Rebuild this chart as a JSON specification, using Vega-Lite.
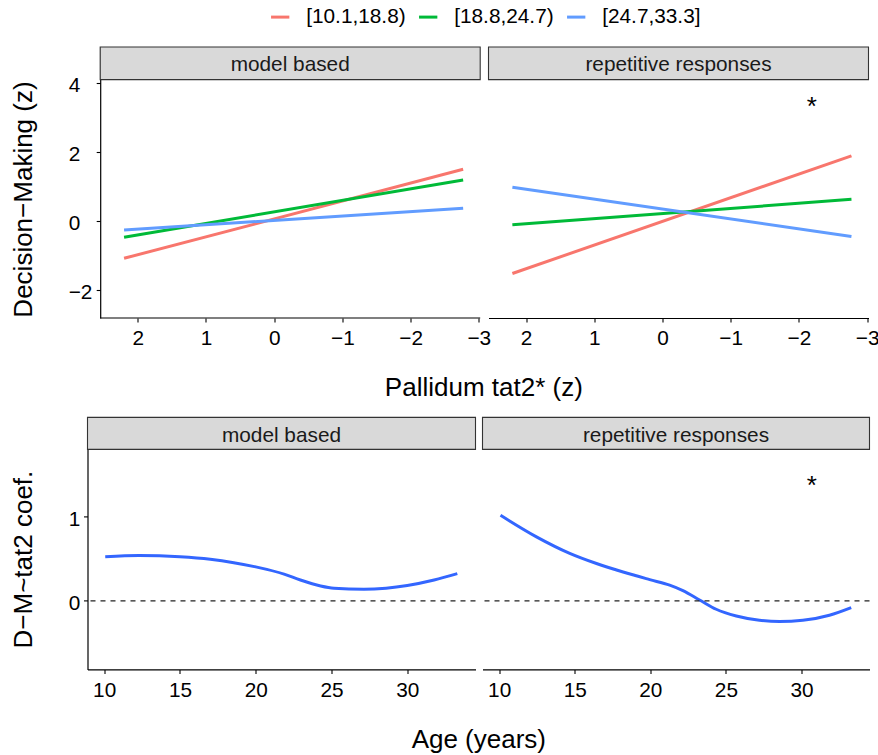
{
  "$schema": "https://vega.github.io/schema/vega-lite/v6.json",
  "padding": {"left": 10.5, "top": 6, "right": 0, "bottom": 0},
  "background": "white",
  "datasets": {
    "lines": [
      {"panel": "model based", "group": "[10.1,18.8)", "x": 2.2, "y": -1.09},
      {"panel": "model based", "group": "[10.1,18.8)", "x": -2.77, "y": 1.49},
      {"panel": "model based", "group": "[18.8,24.7)", "x": 2.2, "y": -0.48},
      {"panel": "model based", "group": "[18.8,24.7)", "x": -2.77, "y": 1.18},
      {"panel": "model based", "group": "[24.7,33.3]", "x": 2.2, "y": -0.27},
      {"panel": "model based", "group": "[24.7,33.3]", "x": -2.77, "y": 0.36},
      {"panel": "repetitive responses", "group": "[10.1,18.8)", "x": 2.2, "y": -1.53},
      {"panel": "repetitive responses", "group": "[10.1,18.8)", "x": -2.77, "y": 1.88},
      {"panel": "repetitive responses", "group": "[18.8,24.7)", "x": 2.2, "y": -0.12},
      {"panel": "repetitive responses", "group": "[18.8,24.7)", "x": -2.77, "y": 0.62},
      {"panel": "repetitive responses", "group": "[24.7,33.3]", "x": 2.2, "y": 0.97},
      {"panel": "repetitive responses", "group": "[24.7,33.3]", "x": -2.77, "y": -0.46}
    ],
    "curves": [
      {"panel": "model based", "age": 10.07, "coef": 0.52},
      {"panel": "model based", "age": 12.3, "coef": 0.535},
      {"panel": "model based", "age": 15.0, "coef": 0.52},
      {"panel": "model based", "age": 17.0, "coef": 0.49},
      {"panel": "model based", "age": 18.55, "coef": 0.45},
      {"panel": "model based", "age": 20.0, "coef": 0.40},
      {"panel": "model based", "age": 21.87, "coef": 0.315},
      {"panel": "model based", "age": 22.95, "coef": 0.245},
      {"panel": "model based", "age": 24.28, "coef": 0.175},
      {"panel": "model based", "age": 25.16, "coef": 0.148},
      {"panel": "model based", "age": 27.14, "coef": 0.135},
      {"panel": "model based", "age": 28.6, "coef": 0.148},
      {"panel": "model based", "age": 30.0, "coef": 0.18},
      {"panel": "model based", "age": 31.77, "coef": 0.245},
      {"panel": "model based", "age": 33.3, "coef": 0.32},
      {"panel": "repetitive responses", "age": 10.09, "coef": 1.01},
      {"panel": "repetitive responses", "age": 12.47, "coef": 0.755},
      {"panel": "repetitive responses", "age": 14.67, "coef": 0.56},
      {"panel": "repetitive responses", "age": 16.44, "coef": 0.44},
      {"panel": "repetitive responses", "age": 18.2, "coef": 0.34},
      {"panel": "repetitive responses", "age": 19.96, "coef": 0.25},
      {"panel": "repetitive responses", "age": 21.28, "coef": 0.185},
      {"panel": "repetitive responses", "age": 22.16, "coef": 0.12},
      {"panel": "repetitive responses", "age": 23.26, "coef": 0.01},
      {"panel": "repetitive responses", "age": 24.36, "coef": -0.10},
      {"panel": "repetitive responses", "age": 25.69, "coef": -0.18},
      {"panel": "repetitive responses", "age": 27.22, "coef": -0.23},
      {"panel": "repetitive responses", "age": 28.55, "coef": -0.245},
      {"panel": "repetitive responses", "age": 30.09, "coef": -0.23},
      {"panel": "repetitive responses", "age": 31.85, "coef": -0.17},
      {"panel": "repetitive responses", "age": 33.29, "coef": -0.08}
    ],
    "stars": [
      {"row": "top", "panel": "repetitive responses", "x": -2.19, "y": 3.07, "label": "*"},
      {"row": "bottom", "panel": "repetitive responses", "x": 30.69, "y": 1.265, "label": "*"}
    ],
    "strips": [
      {"panel": "model based"},
      {"panel": "repetitive responses"}
    ]
  },
  "spacing": 14.4,
  "vconcat": [
    {
      "columns": 2,
      "align": "none",
      "spacing": -4,
      "title": {"text": "Pallidum tat2* (z)", "orient": "bottom", "anchor": "middle", "frame": "bounds", "fontSize": 26, "font": "Liberation Sans", "fontWeight": "normal", "color": "black", "offset": 27, "dx": 39},
      "concat": [
        {
          "width": 392.7, "height": 271,
          "layer": [
            {
              "data": {"name": "lines"},
              "transform": [{"filter": "datum.panel === 'model based'"}],
              "mark": {"type": "line", "strokeWidth": 3},
              "encoding": {
                "x": {"field": "x", "type": "quantitative", "scale": {"domain": [-3.02, 2.736], "reverse": true, "nice": false, "zero": false}, "axis": {"values": [2, 1, 0, -1, -2, -3], "format": "d", "title": null, "labelPadding": 6.5, "domain": false}},
                "y": {"field": "y", "type": "quantitative", "scale": {"domain": [-2.82, 5.035], "nice": false, "zero": false}, "axis": {"values": [-2, 0, 2, 4], "format": "d", "title": "Decision−Making (z)", "labelAlign": "left", "labelPadding": 28, "labelOffset": 3, "titlePadding": 31.5, "titleY": 152, "offset": -12.7}},
                "color": {"field": "group", "type": "nominal", "scale": {"domain": ["[10.1,18.8)", "[18.8,24.7)", "[24.7,33.3]"], "range": ["#F8766D", "#00BA38", "#619CFF"]}, "legend": {"orient": "none", "direction": "horizontal", "legendX": 181.7, "legendY": -41, "title": null}}
              }
            },
            {
              "data": {"name": "strips"},
              "transform": [{"filter": "datum.panel === 'model based'"}],
              "mark": {"type": "rule", "strokeWidth": 1.2, "color": "black"},
              "encoding": {
                "x": {"datum": 2.55, "type": "quantitative"},
                "x2": {"datum": -3.02},
                "y": {"datum": -2.82, "type": "quantitative"}
              }
            },
            {
              "data": {"name": "strips"},
              "transform": [{"filter": "datum.panel === 'model based'"}],
              "mark": {"type": "rect", "fill": "#d9d9d9", "stroke": "#333333", "strokeWidth": 1.1},
              "encoding": {
                "x": {"datum": 2.55, "type": "quantitative"},
                "x2": {"datum": -3.02},
                "y": {"datum": 4.09, "type": "quantitative"},
                "y2": {"datum": 5.035}
              }
            },
            {
              "data": {"name": "strips"},
              "transform": [{"filter": "datum.panel === 'model based'"}],
              "mark": {"type": "text", "fontSize": 20.8, "color": "#1a1a1a", "baseline": "alphabetic", "align": "center"},
              "encoding": {
                "x": {"datum": -0.235, "type": "quantitative"},
                "y": {"datum": 4.328, "type": "quantitative"},
                "text": {"field": "panel"}
              }
            }
          ]
        },
        {
          "width": 380, "height": 271,
          "layer": [
            {
              "data": {"name": "lines"},
              "transform": [{"filter": "datum.panel === 'repetitive responses'"}],
              "mark": {"type": "line", "strokeWidth": 3},
              "encoding": {
                "x": {"field": "x", "type": "quantitative", "scale": {"domain": [-3.02, 2.55], "reverse": true, "nice": false, "zero": false}, "axis": {"values": [2, 1, 0, -1, -2, -3], "format": "d", "title": null, "labelPadding": 6.5}},
                "y": {"field": "y", "type": "quantitative", "scale": {"domain": [-2.82, 5.035], "nice": false, "zero": false}, "axis": null},
                "color": {"field": "group", "type": "nominal", "scale": {"domain": ["[10.1,18.8)", "[18.8,24.7)", "[24.7,33.3]"], "range": ["#F8766D", "#00BA38", "#619CFF"]}, "legend": {"orient": "none", "direction": "horizontal", "legendX": 181.7, "legendY": -41, "title": null}}
              }
            },
            {
              "data": {"name": "stars"},
              "transform": [{"filter": "datum.row === 'top'"}],
              "mark": {"type": "text", "fontSize": 26, "color": "black", "baseline": "alphabetic", "align": "center"},
              "encoding": {
                "x": {"field": "x", "type": "quantitative"},
                "y": {"field": "y", "type": "quantitative"},
                "text": {"field": "label"}
              }
            },
            {
              "data": {"name": "strips"},
              "transform": [{"filter": "datum.panel === 'repetitive responses'"}],
              "mark": {"type": "rect", "fill": "#d9d9d9", "stroke": "#333333", "strokeWidth": 1.1},
              "encoding": {
                "y": {"datum": 4.09, "type": "quantitative"},
                "y2": {"datum": 5.035}
              }
            },
            {
              "data": {"name": "strips"},
              "transform": [{"filter": "datum.panel === 'repetitive responses'"}],
              "mark": {"type": "text", "fontSize": 20.8, "color": "#1a1a1a", "baseline": "alphabetic", "align": "center"},
              "encoding": {
                "y": {"datum": 4.328, "type": "quantitative"},
                "text": {"field": "panel"}
              }
            }
          ]
        }
      ]
    },
    {
      "spacing": 5,
      "title": {"text": "Age (years)", "orient": "bottom", "anchor": "middle", "frame": "bounds", "fontSize": 26, "font": "Liberation Sans", "fontWeight": "normal", "color": "black", "offset": 26.7, "dx": 38.4},
      "hconcat": [
        {
          "width": 388, "height": 252,
          "layer": [
            {
              "data": {"name": "curves"},
              "transform": [{"filter": "datum.panel === 'model based'"}],
              "mark": {"type": "line", "strokeWidth": 3, "color": "#3366FF", "interpolate": "monotone"},
              "encoding": {
                "x": {"field": "age", "type": "quantitative", "scale": {"domain": [8.9, 34.5], "nice": false, "zero": false}, "axis": {"values": [10, 15, 20, 25, 30], "title": null, "labelPadding": 7}},
                "y": {"field": "coef", "type": "quantitative", "scale": {"domain": [-0.81, 2.165], "nice": false, "zero": false}, "axis": {"values": [0, 1], "format": "d", "title": "D−M~tat2 coef.", "labelAlign": "left", "labelPadding": 15.3, "labelOffset": 3, "titlePadding": 31.5, "titleY": 141.7}}
              }
            },
            {
              "data": {"name": "strips"},
              "transform": [{"filter": "datum.panel === 'model based'"}],
              "mark": {"type": "rule", "strokeDash": [5, 5], "strokeWidth": 1.3, "color": "#222222"},
              "encoding": {"y": {"datum": 0, "type": "quantitative"}}
            },
            {
              "data": {"name": "strips"},
              "transform": [{"filter": "datum.panel === 'model based'"}],
              "mark": {"type": "rect", "fill": "#d9d9d9", "stroke": "#333333", "strokeWidth": 1.1},
              "encoding": {
                "y": {"datum": 1.787, "type": "quantitative"},
                "y2": {"datum": 2.165}
              }
            },
            {
              "data": {"name": "strips"},
              "transform": [{"filter": "datum.panel === 'model based'"}],
              "mark": {"type": "text", "fontSize": 20.8, "color": "#1a1a1a", "baseline": "alphabetic", "align": "center"},
              "encoding": {
                "y": {"datum": 1.877, "type": "quantitative"},
                "text": {"field": "panel"}
              }
            }
          ]
        },
        {
          "width": 387, "height": 252,
          "layer": [
            {
              "data": {"name": "curves"},
              "transform": [{"filter": "datum.panel === 'repetitive responses'"}],
              "mark": {"type": "line", "strokeWidth": 3, "color": "#3366FF", "interpolate": "monotone"},
              "encoding": {
                "x": {"field": "age", "type": "quantitative", "scale": {"domain": [8.9, 34.5], "nice": false, "zero": false}, "axis": {"values": [10, 15, 20, 25, 30], "title": null, "labelPadding": 7}},
                "y": {"field": "coef", "type": "quantitative", "scale": {"domain": [-0.81, 2.165], "nice": false, "zero": false}, "axis": null}
              }
            },
            {
              "data": {"name": "strips"},
              "transform": [{"filter": "datum.panel === 'repetitive responses'"}],
              "mark": {"type": "rule", "strokeDash": [5, 5], "strokeWidth": 1.3, "color": "#222222"},
              "encoding": {"y": {"datum": 0, "type": "quantitative"}}
            },
            {
              "data": {"name": "stars"},
              "transform": [{"filter": "datum.row === 'bottom'"}],
              "mark": {"type": "text", "fontSize": 26, "color": "black", "baseline": "alphabetic", "align": "center"},
              "encoding": {
                "x": {"field": "x", "type": "quantitative"},
                "y": {"field": "y", "type": "quantitative"},
                "text": {"field": "label"}
              }
            },
            {
              "data": {"name": "strips"},
              "transform": [{"filter": "datum.panel === 'repetitive responses'"}],
              "mark": {"type": "rect", "fill": "#d9d9d9", "stroke": "#333333", "strokeWidth": 1.1},
              "encoding": {
                "y": {"datum": 1.787, "type": "quantitative"},
                "y2": {"datum": 2.165}
              }
            },
            {
              "data": {"name": "strips"},
              "transform": [{"filter": "datum.panel === 'repetitive responses'"}],
              "mark": {"type": "text", "fontSize": 20.8, "color": "#1a1a1a", "baseline": "alphabetic", "align": "center"},
              "encoding": {
                "y": {"datum": 1.877, "type": "quantitative"},
                "text": {"field": "panel"}
              }
            }
          ]
        }
      ]
    }
  ],
  "config": {
    "font": "Liberation Sans",
    "view": {"stroke": null},
    "axis": {
      "grid": false,
      "domainColor": "black",
      "domainWidth": 1.2,
      "tickColor": "black",
      "tickWidth": 1.1,
      "tickSize": 4,
      "labelFont": "Liberation Sans",
      "labelFontSize": 20.8,
      "labelColor": "black",
      "labelOverlap": false,
      "labelFlush": false,
      "titleFont": "Liberation Sans",
      "titleFontSize": 26,
      "titleFontWeight": "normal",
      "titleColor": "black"
    },
    "legend": {
      "labelFont": "Liberation Sans",
      "labelFontSize": 20.8,
      "labelColor": "black",
      "symbolType": "stroke",
      "symbolStrokeWidth": 3,
      "symbolSize": 335,
      "labelOffset": 15,
      "columnPadding": 6,
      "padding": 0
    }
  }
}
